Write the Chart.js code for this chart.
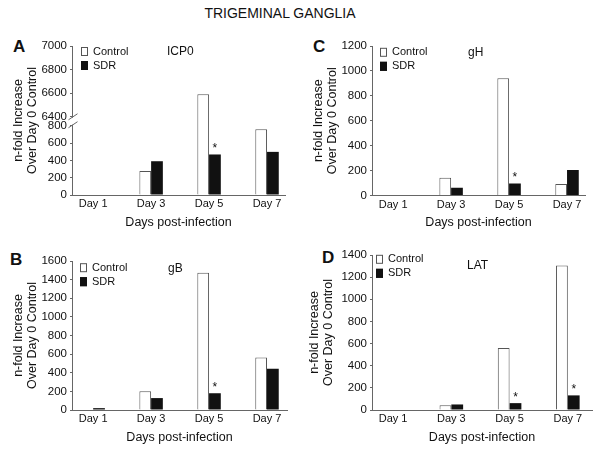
<!DOCTYPE html>
<html>
<head>
<meta charset="utf-8">
<script src="https://cdn.jsdelivr.net/npm/chart.js@4.4.1/dist/chart.umd.min.js"></script>
<style>
  body { margin: 0; background: #fff; }
  #wrap { position: relative; width: 600px; height: 452px; font-family: "Liberation Sans", Arial, sans-serif; color: #111; }
  canvas { position: absolute; }
  .lbl { position: absolute; white-space: nowrap; }
  .letter { font-weight: bold; font-size: 17px; line-height: 17px; }
</style>
</head>
<body>
<div id="wrap">
  <div class="lbl" style="left:0; width:560px; top:5px; text-align:center; font-size:14px;">TRIGEMINAL GANGLIA</div>
  <div class="lbl letter" style="left:13px; top:38px;">A</div>
  <div class="lbl letter" style="left:313px; top:38px;">C</div>
  <div class="lbl letter" style="left:10px; top:251px;">B</div>
  <div class="lbl letter" style="left:322px; top:249px;">D</div>
  <canvas id="chartA" width="300" height="236" style="left:0; top:0;"></canvas>
  <canvas id="chartC" width="300" height="236" style="left:300px; top:0;"></canvas>
  <canvas id="chartB" width="300" height="216" style="left:0; top:236px;"></canvas>
  <canvas id="chartD" width="300" height="216" style="left:300px; top:236px;"></canvas>
</div>
<script>
// data
const categories = ['Day 1', 'Day 3', 'Day 5', 'Day 7'];
const days = [1, 3, 5, 7];
const seriesNames = ['Control', 'SDR'];

const icp0Control = [0, 278, 6590, 760];
const icp0SDR = [0, 390, 468, 498];
const icp0Sig = [false, false, true, false];
const icp0Ticks = [0, 200, 400, 600, 800, 6400, 6600, 6800, 7000];

const gBControl = [0, 202, 1475, 564];
const gBSDR = [20, 128, 180, 443];
const gBSig = [false, false, true, false];

const gHControl = [5, 142, 941, 92];
const gHSDR = [0, 62, 97, 205];
const gHSig = [false, false, true, false];

const latControl = [0, 42, 560, 1305];
const latSDR = [0, 50, 62, 132];
const latSig = [false, false, true, true];

const FONT = '"Liberation Sans", Arial, sans-serif';
Chart.defaults.font.family = FONT;
Chart.defaults.color = '#111';

// linear axis with a gap between two value ranges (panel A)
class BrokenScale extends Chart.LinearScale {
  static id = 'broken';
  _dec(v) {
    const [lo, hi] = this.options.breakAt;
    const [fLo, fHi] = this.options.breakFrac;
    if (v <= lo) return (v - this.min) / (lo - this.min) * fLo;
    if (v >= hi) return fHi + (v - hi) / (this.max - hi) * (1 - fHi);
    return fLo + (v - lo) / (hi - lo) * (fHi - fLo);
  }
  getPixelForValue(v) {
    if (v === null || v === undefined) return NaN;
    return this.getPixelForDecimal(this._dec(v));
  }
  getValueForPixel(p) {
    const d = this.getDecimalForPixel(p);
    const [lo, hi] = this.options.breakAt;
    const [fLo, fHi] = this.options.breakFrac;
    if (d <= fLo) return this.min + d / fLo * (lo - this.min);
    if (d >= fHi) return hi + (d - fHi) / (1 - fHi) * (this.max - hi);
    return lo + (d - fLo) / (fHi - fLo) * (hi - lo);
  }
}
Chart.register(BrokenScale);

const decor = {
  id: 'decor',
  afterDatasetsDraw(chart, args, o) {
    const ctx = chart.ctx;
    const a = chart.chartArea;
    ctx.save();
    // legend
    ctx.font = '11px ' + FONT;
    ctx.textBaseline = 'middle';
    seriesNames.forEach((name, i) => {
      const ds = chart.data.datasets[i];
      const bx = a.left + o.legendX;
      const cy = a.top + o.legendY + i * 14;
      ctx.fillStyle = ds.backgroundColor;
      ctx.fillRect(bx, cy - 4.5, 7, 9);
      ctx.strokeStyle = ds.borderColor;
      ctx.lineWidth = 1;
      ctx.strokeRect(bx + 0.5, cy - 4, 6, 8);
      ctx.fillStyle = '#111';
      ctx.fillText(name, bx + 12, cy);
    });
    // gene name
    ctx.font = '12px ' + FONT;
    ctx.fillText(o.gene, a.left + o.geneX, a.top + o.geneY);
    // significance marks over SDR bars
    const meta = chart.getDatasetMeta(1);
    ctx.textAlign = 'center';
    ctx.textBaseline = 'alphabetic';
    o.sig.forEach((s, i) => {
      if (!s) return;
      const bar = meta.data[i];
      ctx.fillText('*', bar.x, bar.y - 2);
    });
    // axis break
    if (o.broken) {
      const y = chart.scales.y;
      const lo = y.getPixelForValue(y.options.breakAt[0]);
      const hi = y.getPixelForValue(y.options.breakAt[1]);
      ctx.strokeStyle = '#666';
      ctx.lineWidth = 1;
      const x = Math.round(a.left) + 0.5;
      ctx.beginPath();
      ctx.moveTo(x, a.bottom); ctx.lineTo(x, lo - 1);
      ctx.moveTo(x, hi + 1); ctx.lineTo(x, a.top);
      ctx.moveTo(x - 4, lo + 2); ctx.lineTo(x + 5, lo - 4);
      ctx.moveTo(x - 4, hi + 3); ctx.lineTo(x + 5, hi - 3);
      ctx.stroke();
    }
    ctx.restore();
  }
};

function makePanel(id, gene, control, sdr, sig, p) {
  const yAxis = {
    type: p.broken ? 'broken' : 'linear',
    min: 0,
    max: p.yMax,
    ticks: {
      stepSize: p.broken ? 1000 : 200,
      callback: (v) => String(v),
      font: { size: 11.5 },
      color: '#111',
      padding: 3
    },
    grid: { drawOnChartArea: false, drawTicks: true, tickLength: 2, color: '#666' },
    border: { display: !p.broken, color: '#666' },
    title: {
      display: true,
      text: ['n-fold Increase', 'Over Day 0 Control'],
      font: { size: 12.5, lineHeight: p.titleLine / 12.5 },
      color: '#111',
      padding: { top: p.titlePad, bottom: 0 }
    },
    afterFit: (s) => { s.width = 72; }
  };
  if (p.broken) {
    yAxis.breakAt = [800, 6400];
    yAxis.breakFrac = [0.465, 0.525];
    yAxis.afterBuildTicks = (ax) => { ax.ticks = icp0Ticks.map(v => ({ value: v })); };
  }

  new Chart(document.getElementById(id), {
    type: 'bar',
    data: {
      datasets: [{
        label: seriesNames[0],
        data: days.map((d, i) => ({ x: d, y: control[i] })),
        backgroundColor: '#ffffff',
        borderColor: '#555555',
        borderWidth: 1,
        borderSkipped: 'start',
        categoryPercentage: 0.405,
        barPercentage: 1
      }, {
        label: seriesNames[1],
        data: days.map((d, i) => ({ x: d, y: sdr[i] })),
        backgroundColor: '#111111',
        borderColor: '#111111',
        borderWidth: 0,
        categoryPercentage: 0.405,
        barPercentage: 1
      }]
    },
    options: {
      responsive: false,
      animation: false,
      events: [],
      layout: { padding: { left: 0, top: p.top, right: p.right, bottom: p.bottom } },
      scales: {
        x: {
          type: 'linear',
          min: p.xMin,
          max: p.xMax,
          offset: false,
          bounds: 'data',
          afterBuildTicks: (ax) => { ax.ticks = days.map(v => ({ value: v })); },
          ticks: {
            callback: (v) => categories[days.indexOf(v)],
            font: { size: 11 },
            color: '#111',
            padding: 2.4,
            maxRotation: 0,
            autoSkip: false
          },
          grid: { display: false, drawTicks: false },
          border: { color: '#666' },
          title: {
            display: true,
            text: 'Days post-infection',
            font: { size: 12.5 },
            color: '#111',
            padding: { top: 0, bottom: 5 }
          },
          afterFit: (s) => { s.height = 40; }
        },
        y: yAxis
      },
      plugins: {
        legend: { display: false },
        tooltip: { enabled: false },
        decor: {
          gene: gene, sig: sig, broken: !!p.broken,
          legendX: p.legendX, legendY: p.legendY, geneX: p.geneX, geneY: p.geneY
        }
      }
    },
    plugins: [decor]
  });
}

makePanel('chartA', 'ICP0', icp0Control, icp0SDR, icp0Sig, {
  broken: true, yMax: 7000, xMin: 0.27, xMax: 7.62,
  top: 46, right: 15, bottom: 1, titlePad: 12, titleLine: 14,
  legendX: 9, legendY: 5.5, geneX: 95, geneY: 6
});
makePanel('chartC', 'gH', gHControl, gHSDR, gHSig, {
  yMax: 1200, xMin: 0.27, xMax: 7.62,
  top: 46, right: 15, bottom: 0.5, titlePad: 12, titleLine: 14,
  legendX: 8, legendY: 6.3, geneX: 96, geneY: 6.3
});
makePanel('chartB', 'gB', gBControl, gBSDR, gBSig, {
  yMax: 1600, xMin: 0.27, xMax: 7.69,
  top: 25, right: 13, bottom: 2, titlePad: 11.5, titleLine: 14,
  legendX: 8, legendY: 6.7, geneX: 96, geneY: 7.3
});
makePanel('chartD', 'LAT', latControl, latSDR, latSig, {
  yMax: 1400, xMin: 0.276, xMax: 7.83,
  top: 19, right: 8, bottom: 2, titlePad: 8, titleLine: 14,
  legendX: 4, legendY: 4.3, geneX: 95, geneY: 11
});
</script>
</body>
</html>
